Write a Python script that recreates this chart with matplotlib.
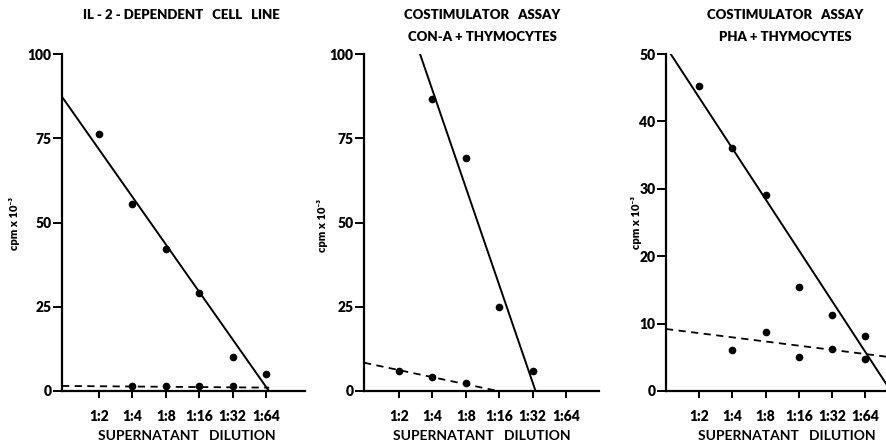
import matplotlib
matplotlib.use('Agg')
import matplotlib.pyplot as plt

plt.rcParams['font.family'] = ['Lato', 'DejaVu Sans']
plt.rcParams['font.weight'] = 'bold'

# dilution categories (positions 1..6 on the x axis)
dilutions = ['1:2', '1:4', '1:8', '1:16', '1:32', '1:64']
xpos = [1, 2, 3, 4, 5, 6]

# panel 1: IL-2-dependent cell line
p1_solid_x = [1, 2, 3, 4, 5, 6]
p1_solid_y = [76.2, 55.6, 42.0, 29.1, 10.0, 5.0]
p1_dash_x = [2, 3, 4, 5]
p1_dash_y = [1.5, 1.5, 1.5, 1.5]
p1_fit_solid = [(-0.108, 87.3), (6.09, 0.0)]
p1_fit_dash = [(-0.108, 1.5), (6.1, 1.0)]

# panel 2: Con-A + thymocytes
p2_solid_x = [2, 3, 4, 5]
p2_solid_y = [86.7, 69.2, 24.9, 6.0]
p2_dash_x = [1, 2, 3]
p2_dash_y = [6.0, 4.3, 2.5]
p2_fit_solid = [(1.63, 100.0), (5.09, 0.0)]
p2_fit_dash = [(-0.048, 8.4), (3.96, 0.0)]

# panel 3: PHA + thymocytes
p3_solid_x = [1, 2, 3, 4, 5, 6]
p3_solid_y = [45.2, 36.1, 29.1, 15.5, 11.3, 8.1]
p3_dash_x = [2, 3, 4, 5, 6]
p3_dash_y = [6.1, 8.7, 5.1, 6.3, 4.8]
p3_fit_solid = [(0.15, 50.0), (6.62, 1.1)]
p3_fit_dash = [(0.009, 9.2), (6.62, 5.1)]

W, H = 886, 447
fig = plt.figure(figsize=(W / 100, H / 100), dpi=100)

panels = [
    dict(box=(62, 305), xlim=(-0.108, 7.17), ylim=(0, 100), yticks=[0, 25, 50, 75, 100],
         sx=p1_solid_x, sy=p1_solid_y, dx=p1_dash_x, dy=p1_dash_y,
         fs=p1_fit_solid, fd=p1_fit_dash,
         title=['IL - 2 - DEPENDENT   CELL   LINE'], tx=181, ylx=15, yly=224, xlx=187),
    dict(box=(364, 599), xlim=(-0.048, 6.99), ylim=(0, 100), yticks=[0, 25, 50, 75, 100],
         sx=p2_solid_x, sy=p2_solid_y, dx=p2_dash_x, dy=p2_dash_y,
         fs=p2_fit_solid, fd=p2_fit_dash,
         title=['COSTIMULATOR   ASSAY', 'CON-A + THYMOCYTES'], tx=482, ylx=323, yly=226, xlx=482),
    dict(box=(666, 886), xlim=(0.009, 6.62), ylim=(0, 50), yticks=[0, 10, 20, 30, 40, 50],
         sx=p3_solid_x, sy=p3_solid_y, dx=p3_dash_x, dy=p3_dash_y,
         fs=p3_fit_solid, fd=p3_fit_dash,
         title=['COSTIMULATOR   ASSAY', 'PHA + THYMOCYTES'], tx=785, ylx=637, yly=222.5, xlx=787),
]

top_px, bot_px = 54, 391
for p in panels:
    l, r = p['box']
    ax = fig.add_axes([l / W, (H - bot_px) / H, (r - l) / W, (bot_px - top_px) / H])
    ax.set_xlim(*p['xlim'])
    ax.set_ylim(*p['ylim'])
    for s in ['top', 'right']:
        ax.spines[s].set_visible(False)
    for s in ['left', 'bottom']:
        ax.spines[s].set_linewidth(1.6)
    ax.set_xticks(xpos)
    ax.set_xticklabels(dilutions, fontsize=10, fontweight='heavy')
    ax.set_yticks(p['yticks'])
    ax.set_yticklabels([str(v) for v in p['yticks']], fontsize=10, fontweight='heavy')
    ax.tick_params(axis='x', direction='out', length=5, width=1.4, pad=9)
    ax.tick_params(axis='y', direction='out', length=6.5, width=1.4, pad=1)

    ax.plot(p['sx'], p['sy'], 'o', color='black', markersize=4.5, clip_on=False)
    ax.plot(p['dx'], p['dy'], 'o', color='black', markersize=4.5, clip_on=False)
    (x0, y0), (x1, y1) = p['fs']
    ax.plot([x0, x1], [y0, y1], '-', color='black', linewidth=1.4)
    (x0, y0), (x1, y1) = p['fd']
    ax.plot([x0, x1], [y0, y1], '--', color='black', linewidth=1.3, dashes=(4, 3))

    for i, line in enumerate(p['title']):
        fig.text(p['tx'] / W, 1 - (15 + 22 * i) / H, line, ha='center', va='center',
                 fontsize=9.5, fontweight='heavy')
    fig.text(p['ylx'] / W, 1 - p['yly'] / H, 'cpm x 10\u207b\u00b3', rotation=90,
             ha='center', va='center', fontsize=8, fontweight='heavy')
    fig.text(p['xlx'] / W, 1 - 436 / H, 'SUPERNATANT   DILUTION', ha='center',
             va='center', fontsize=10)

fig.savefig('out.png', dpi=100)
